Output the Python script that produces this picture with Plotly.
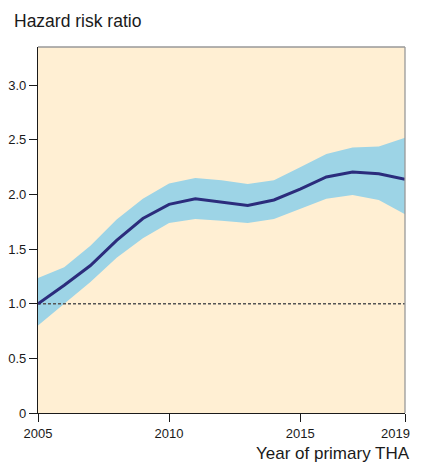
import plotly.graph_objects as go

years = list(range(2005, 2020))
hr = [1.0, 1.17, 1.35, 1.58, 1.78, 1.91, 1.96, 1.93, 1.90, 1.95, 2.05, 2.16, 2.205, 2.19, 2.14]
upper = [1.235, 1.335, 1.53, 1.77, 1.96, 2.10, 2.15, 2.13, 2.095, 2.13, 2.25, 2.37, 2.43, 2.44, 2.52]
lower = [0.80, 1.0, 1.2, 1.42, 1.6, 1.74, 1.775, 1.76, 1.74, 1.775, 1.87, 1.96, 1.995, 1.95, 1.82]

y_ticks = [0, 0.5, 1.0, 1.5, 2.0, 2.5, 3.0]
y_ticktext = ["0", "0.5", "1.0", "1.5", "2.0", "2.5", "3.0"]
x_ticks = [2005, 2010, 2015, 2019]
x_ticktext = ["2005", "2010", "2015", "2019"]

font = "Liberation Sans, Arial, sans-serif"

# The page body has an 8px default margin and the visible figure is clipped
# 8px before the right edge; sizes chosen so the plot lands where the reference has it.
W, H = 413, 455
L, R, T, B = 30, 16, 39, 50

fig = go.Figure()
fig.add_trace(go.Scatter(x=years, y=upper, mode="lines", line=dict(width=0), showlegend=False, hoverinfo="skip"))
fig.add_trace(go.Scatter(x=years, y=lower, mode="lines", line=dict(width=0), fill="tonexty",
                         fillcolor="#9dd4e6", showlegend=False, hoverinfo="skip"))
fig.add_trace(go.Scatter(x=[years[0], years[-1]], y=[1, 1], mode="lines",
                         line=dict(color="#555555", width=1.3, dash="3px,2px"), showlegend=False))
fig.add_trace(go.Scatter(x=years, y=hr, mode="lines", line=dict(color="#2b2c7c", width=3), showlegend=False))

fig.update_layout(
    width=W, height=H,
    margin=dict(l=L, r=R, t=T, b=B, autoexpand=False),
    paper_bgcolor="white", plot_bgcolor="#ffefd3",
    font=dict(family=font, color="#1a1a1a", size=13),
    xaxis=dict(range=[2005, 2019], tickvals=x_ticks, ticktext=x_ticktext[:-1] + [""],
               ticks="outside", ticklen=8, tickcolor="#1a1a1a",
               showgrid=False, zeroline=False, showline=True, linecolor="#1a1a1a", linewidth=1.3,
               tickfont=dict(size=13), ticklabeloverflow="allow"),
    yaxis=dict(range=[0, 3.35], tickvals=y_ticks, ticktext=y_ticktext, ticks="outside", ticklen=8,
               tickcolor="#1a1a1a", showgrid=False, zeroline=False, showline=True, linecolor="#1a1a1a",
               linewidth=1.3, tickfont=dict(size=13)),
    shapes=[
        dict(type="line", xref="paper", yref="paper", x0=0, x1=1, y0=1, y1=1, line=dict(color="#999999", width=1.3)),
        dict(type="line", xref="paper", yref="paper", x0=1, x1=1, y0=0, y1=1, line=dict(color="#999999", width=1.3)),
    ],
    annotations=[
        dict(text=x_ticktext[-1], xref="x", yref="paper", x=x_ticks[-1], y=0, xshift=7, yshift=-20,
             xanchor="right", yanchor="middle", showarrow=False, font=dict(size=13, color="#1a1a1a")),
        dict(text="Hazard risk ratio", xref="paper", yref="paper", x=0, y=1, xshift=-26, yshift=26,
             xanchor="left", yanchor="middle", showarrow=False, font=dict(size=17.5, color="#1a1a1a")),
        dict(text="Year of primary THA", xref="paper", yref="paper", x=1, y=0, yshift=-40, xshift=7,
             xanchor="right", yanchor="middle", showarrow=False, font=dict(size=17, color="#1a1a1a")),
    ],
)

fig.write_html("out.html")
